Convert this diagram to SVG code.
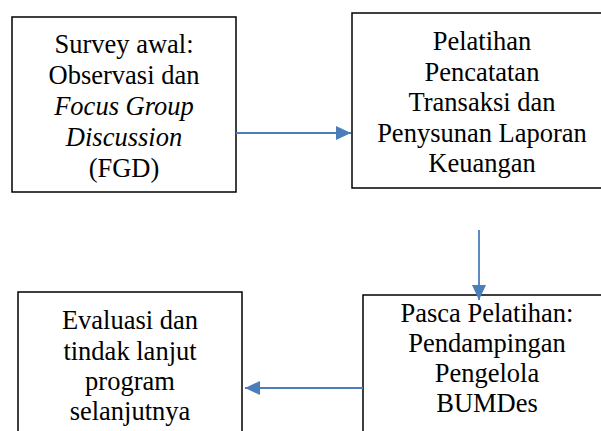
<svg xmlns="http://www.w3.org/2000/svg" width="601" height="431" viewBox="0 0 601 431">
<defs>
<marker id="ah" viewBox="0 0 15 14" refX="15" refY="7" markerWidth="15" markerHeight="14" orient="auto" markerUnits="userSpaceOnUse">
<path d="M0,0 L15,7 L0,14 z" fill="#4a7ebb"/>
</marker>
</defs>
<style>
.box{fill:#fff;stroke:#000;stroke-width:1.5}
.t{font-family:"Liberation Serif","Times New Roman",serif;font-size:26.5px;fill:#000;text-anchor:middle}
.i{font-style:italic}
.c{stroke:#4a7ebb;stroke-width:1.8;fill:none}
</style>
<rect width="601" height="431" fill="#fff"/>
<g id="n1">
<rect class="box" x="12" y="17" width="224" height="175"/>
<text class="t" x="124" y="53">Survey awal:</text>
<text class="t" x="124" y="84">Observasi dan</text>
<text class="t i" x="124" y="115">Focus Group</text>
<text class="t i" x="124" y="146">Discussion</text>
<text class="t" x="124" y="177">(FGD)</text>
</g>
<g id="n2">
<rect class="box" x="352" y="13" width="260" height="175"/>
<text class="t" x="482" y="50">Pelatihan</text>
<text class="t" x="482" y="81">Pencatatan</text>
<text class="t" x="482" y="111">Transaksi dan</text>
<text class="t" x="482" y="142">Penysunan Laporan</text>
<text class="t" x="482" y="172">Keuangan</text>
</g>
<g id="n3">
<rect class="box" x="18" y="292" width="224" height="160"/>
<text class="t" x="130" y="329">Evaluasi dan</text>
<text class="t" x="130" y="360">tindak lanjut</text>
<text class="t" x="130" y="390">program</text>
<text class="t" x="130" y="420">selanjutnya</text>
</g>
<g id="n4">
<rect class="box" x="363" y="295" width="248" height="160"/>
<text class="t" x="487" y="322">Pasca Pelatihan:</text>
<text class="t" x="487" y="352">Pendampingan</text>
<text class="t" x="487" y="382">Pengelola</text>
<text class="t" x="487" y="412">BUMDes</text>
</g>
<g id="connectors">
<line class="c" x1="236" y1="133" x2="351" y2="133" marker-end="url(#ah)"/>
<line class="c" x1="479" y1="230" x2="479" y2="300" marker-end="url(#ah)"/>
<line class="c" x1="363" y1="388" x2="245" y2="388" marker-end="url(#ah)"/>
</g>
</svg>
